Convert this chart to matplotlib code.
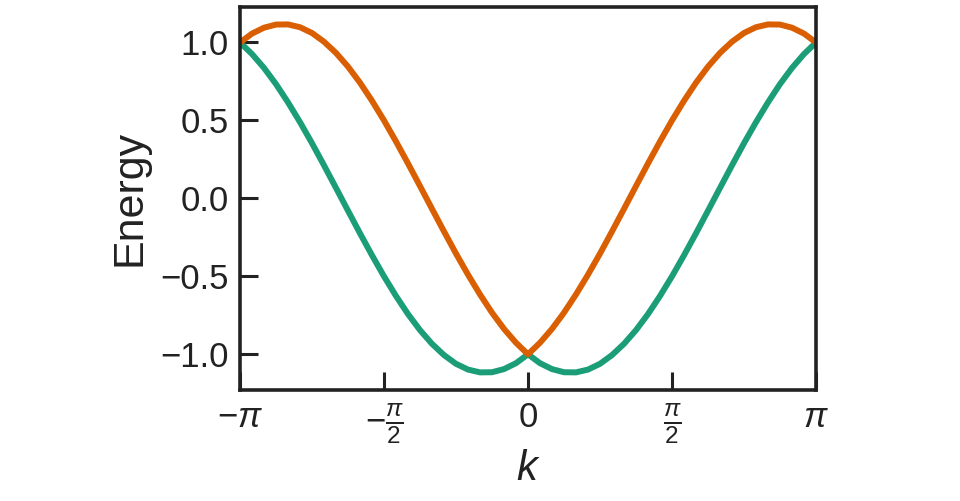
import numpy as np
import matplotlib
matplotlib.use("Agg")
import matplotlib.pyplot as plt

plt.rcParams['font.family'] = ['Liberation Sans', 'DejaVu Sans']
plt.rcParams['mathtext.fontset'] = 'custom'
plt.rcParams['mathtext.rm'] = 'Liberation Sans'
plt.rcParams['mathtext.it'] = 'Liberation Sans:italic'
plt.rcParams['mathtext.sf'] = 'Liberation Sans'

# k sampled in steps of pi/24 from -pi to pi
k_steps = list(range(-24, 25))
k = np.array(k_steps) * np.pi / 24

band_green = [1.000, 0.926, 0.837, 0.733, 0.616, 0.489, 0.354, 0.212, 0.067,
              -0.079, -0.224, -0.365, -0.500, -0.626, -0.742, -0.845, -0.933,
              -1.005, -1.061, -1.098, -1.116, -1.115, -1.095, -1.057,
              -1.000,
              -1.057, -1.095, -1.115, -1.116, -1.098, -1.061, -1.005, -0.933,
              -0.845, -0.742, -0.626, -0.500, -0.365, -0.224, -0.079, 0.067,
              0.212, 0.354, 0.489, 0.616, 0.733, 0.837, 0.926, 1.000]
band_orange = [1.000, 1.057, 1.095, 1.115, 1.116, 1.098, 1.061, 1.005, 0.933,
               0.845, 0.742, 0.626, 0.500, 0.365, 0.224, 0.079, -0.067,
               -0.212, -0.354, -0.489, -0.616, -0.733, -0.837, -0.926,
               -1.000,
               -0.926, -0.837, -0.733, -0.616, -0.489, -0.354, -0.212, -0.067,
               0.079, 0.224, 0.365, 0.500, 0.626, 0.742, 0.845, 0.933,
               1.005, 1.061, 1.098, 1.116, 1.115, 1.095, 1.057, 1.000]

xtick_pos = [-np.pi, -np.pi / 2, 0, np.pi / 2, np.pi]
xtick_labels = [r'$-\pi$', r'$-\frac{\pi}{2}$', r'$0$', r'$\frac{\pi}{2}$', r'$\pi$']
ytick_pos = [-1.0, -0.5, 0.0, 0.5, 1.0]
ytick_labels = ['\u22121.0', '\u22120.5', '0.0', '0.5', '1.0']

fig = plt.figure(figsize=(9.6, 5.01), dpi=100)
ax = fig.add_axes([0.25, 0.222, 0.60, 0.764])

ax.plot(k, band_green, color='#1b9e77', lw=4.3, solid_capstyle='butt')
ax.plot(k, band_orange, color='#d95f02', lw=4.3, solid_capstyle='butt')

ax.set_xlim(-np.pi, np.pi)
ax.margins(y=0.05)

ax.set_xticks(xtick_pos)
ax.set_xticklabels(xtick_labels)
ax.set_yticks(ytick_pos)
ax.set_yticklabels(ytick_labels)

ax.tick_params(direction='in', length=13, width=2.2, labelsize=25,
               color='#222222', labelcolor='#222222', pad=8)
for s in ax.spines.values():
    s.set_linewidth(2.6)
    s.set_color('#222222')

ax.set_xlabel(r'$k$', fontsize=30, color='#222222', labelpad=2)
ax.set_ylabel('Energy', fontsize=31, color='#222222', labelpad=8)

fig.savefig('out.png', dpi=100)
